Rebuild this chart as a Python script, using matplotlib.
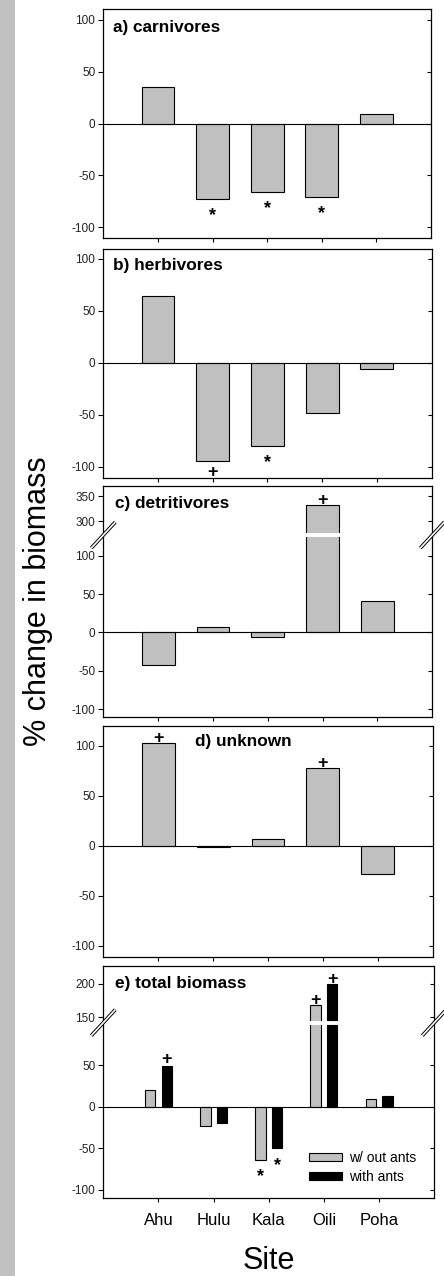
import numpy as np
import matplotlib
matplotlib.use('Agg')
import matplotlib.pyplot as plt
import matplotlib.transforms as mtransforms
from matplotlib.patches import Rectangle, Patch
from matplotlib.lines import Line2D

plt.rcParams['font.family'] = ['Liberation Sans', 'DejaVu Sans']

# ---------------- data ----------------
sites = ['Ahu', 'Hulu', 'Kala', 'Oili', 'Poha']
carnivores = [35, -73, -66, -71, 9]
herbivores = [64, -94.5, -79.5, -48, -6]
detritivores = [-43, 6.5, -5.5, 333, 41]
unknown = [103, -1, 7, 78, -28]
total_without_ants = [20, -23.5, -64, 169, 9]
total_with_ants = [49, -20, -50, 200, 13]

carnivore_marks = ['', '*', '*', '*', '']
herbivore_marks = ['', '+', '*', '', '']
detritivore_marks = ['', '', '', '+', '']
unknown_marks = ['+', '', '', '+', '']
without_ants_marks = ['', '', '*', '+', '']
with_ants_marks = ['+', '', '*', '+', '']

panel_titles = ['a) carnivores', 'b) herbivores', 'c) detritivores',
                'd) unknown', 'e) total biomass']
legend_labels = ['w/ out ants', 'with ants']
yticks_std = [-100, -50, 0, 50, 100]
yticks_c = [-100, -50, 0, 50, 100, 300, 350]
yticks_e = [-100, -50, 0, 50, 150, 200]

# ---------------- figure ----------------
W, H = 444, 1276
DPI = 100
fig = plt.figure(figsize=(W / DPI, H / DPI), dpi=DPI)
fig.add_artist(Rectangle((0, 0), 15 / W, 1, transform=fig.transFigure,
                         facecolor='#c0c0c0', edgecolor='none', zorder=0))

GRAY = '#c0c0c0'
EDGE_LW = 0.8
TICK_COLOR = '#222222'


def px_axes(left, top, right, bottom):
    return fig.add_axes([left / W, 1 - bottom / H, (right - left) / W, (bottom - top) / H])


def break_scale(lo, hi, k, eps=1e-3):
    mid = lo + (hi - lo) * eps

    def fwd(v):
        v = np.asarray(v, dtype=float)
        return np.where(v <= lo, v,
                        np.where(v < hi, lo + (v - lo) * eps, mid + (v - hi) * k))

    def inv(y):
        y = np.asarray(y, dtype=float)
        return np.where(y <= lo, y,
                        np.where(y < mid, lo + (y - lo) / eps, hi + (y - mid) / k))
    return fwd, inv


def style(ax, ylim, yticks, show_xlabels=False):
    ax.set_xlim(-1, 5)
    ax.set_ylim(*ylim)
    ax.set_xticks(range(len(sites)))
    ax.set_yticks(yticks)
    ax.set_yticklabels([str(t) for t in yticks])
    ax.tick_params(axis='y', direction='out', length=3.6, width=0.8, pad=2.2,
                   labelsize=8.5, colors='black', labelcolor=TICK_COLOR)
    ax.tick_params(axis='x', direction='out', length=3, width=0.8, pad=7.5,
                   labelsize=12, labelbottom=show_xlabels)
    if show_xlabels:
        ax.set_xticklabels(sites)
    for s in ax.spines.values():
        s.set_linewidth(0.9)
    # inward ticks on right side
    trans = mtransforms.blended_transform_factory(ax.transAxes, ax.transData)
    ax.plot([1] * len(yticks), yticks, ls='none', marker=0, markersize=3.2,
            markeredgewidth=0.8, color='black', transform=trans, clip_on=False, zorder=3)
    ax.axhline(0, color='black', lw=0.8, zorder=1.6)


def title(ax, text, dx, dy):
    bb = ax.get_position()
    axw, axh = bb.width * W, bb.height * H
    ax.text(dx / axw, 1 - dy / axh, text, transform=ax.transAxes, fontsize=12.4,
            fontweight='bold', ha='left', va='baseline')


def mark(ax, x, v, sym, fs=13, up=6.0):
    if not sym:
        return
    em_px = fs * DPI / 72
    if v >= 0:
        center = up
    else:
        center = -11 if sym == '*' else -9.5
    gc = 0.58 if sym == '*' else 0.35
    base_px = center - gc * em_px
    ax.annotate(sym, xy=(x, v), xytext=(0, base_px * 72 / DPI), textcoords='offset points',
                ha='center', va='baseline', fontsize=fs, fontweight='bold',
                annotation_clip=False)


def break_marks(ax, brk):
    bb = ax.get_position()
    axw, axh = bb.width * W, bb.height * H
    yf = ax.transAxes.inverted().transform(ax.transData.transform((0, brk)))[1]
    dx, dy = 12 / axw, 13 / axh
    for x0 in (0, 1):
        ax.add_line(Line2D([x0 - dx, x0 + dx], [yf - dy, yf + dy], transform=ax.transAxes,
                           color='black', lw=2.6, clip_on=False, solid_capstyle='butt', zorder=6))
        ax.add_line(Line2D([x0 - dx, x0 + dx], [yf - dy, yf + dy], transform=ax.transAxes,
                           color='white', lw=1.2, clip_on=False, solid_capstyle='butt', zorder=7))
    ax.axhline(brk, color='white', lw=2.8, zorder=2)


x = np.arange(len(sites))

# ---------------- a) carnivores ----------------
ax_a = px_axes(103.3, 9, 431, 238)
ax_a.bar(x, carnivores, width=0.6, color=GRAY, edgecolor='black', linewidth=EDGE_LW)
style(ax_a, (-110.6, 110.6), yticks_std)
title(ax_a, panel_titles[0], 9.4, 23)
for xi, v, m in zip(x, carnivores, carnivore_marks):
    mark(ax_a, xi, v, m)

# ---------------- b) herbivores ----------------
ax_b = px_axes(103.3, 249, 431.5, 477.7)
ax_b.bar(x, herbivores, width=0.6, color=GRAY, edgecolor='black', linewidth=EDGE_LW)
style(ax_b, (-110.3, 109.6), yticks_std)
title(ax_b, panel_titles[1], 9.4, 21)
for xi, v, m in zip(x, herbivores, herbivore_marks):
    mark(ax_b, xi, v, m)

# ---------------- c) detritivores (broken axis) ----------------
ax_c = px_axes(103.3, 486, 432.3, 717)
lo_c, hi_c = 127, 273
ax_c.set_yscale('function', functions=break_scale(lo_c, hi_c, 0.652))
ax_c.bar(x, detritivores, width=0.6, color=GRAY, edgecolor='black', linewidth=EDGE_LW)
style(ax_c, (-110.4, 371), yticks_c)
title(ax_c, panel_titles[2], 11.7, 22.3)
for xi, v, m in zip(x, detritivores, detritivore_marks):
    mark(ax_c, xi, v, m)
break_marks(ax_c, lo_c)

# ---------------- d) unknown ----------------
ax_d = px_axes(103.3, 726, 432.7, 956.7)
ax_d.bar(x, unknown, width=0.6, color=GRAY, edgecolor='black', linewidth=EDGE_LW)
style(ax_d, (-110.7, 120), yticks_std)
title(ax_d, panel_titles[3], 91.7, 20)
for xi, v, m in zip(x, unknown, unknown_marks):
    mark(ax_d, xi, v, m)

# ---------------- e) total biomass (broken axis) ----------------
ax_e = px_axes(103.3, 966, 434.3, 1198.3)
lo_e, hi_e = 101, 142
ax_e.set_yscale('function', functions=break_scale(lo_e, hi_e, 0.8))
off, bw = 0.15, 0.19
ax_e.bar(x - off, total_without_ants, width=bw, color=GRAY, edgecolor='black', linewidth=EDGE_LW)
ax_e.bar(x + off, total_with_ants, width=bw, color='black', edgecolor='black', linewidth=EDGE_LW)
style(ax_e, (-110, 227), yticks_e, show_xlabels=True)
title(ax_e, panel_titles[4], 11.7, 21.7)
for xi, v, m in zip(x, total_without_ants, without_ants_marks):
    mark(ax_e, xi - off, v, m)
for xi, v, m in zip(x, total_with_ants, with_ants_marks):
    mark(ax_e, xi + off, v, m, up=(8 if xi == 0 else 6))
break_marks(ax_e, lo_e)

handles = [Patch(facecolor=GRAY, edgecolor='black', linewidth=EDGE_LW),
           Patch(facecolor='black', edgecolor='black', linewidth=EDGE_LW)]
ax_e.legend(handles, legend_labels, frameon=False, fontsize=10, handlelength=2.35,
            handleheight=0.48, handletextpad=0.5, labelspacing=0.35, borderpad=0,
            borderaxespad=0, loc='center left',
            bbox_to_anchor=(309 / W, 1 - 1167.4 / H), bbox_transform=fig.transFigure)

# ---------------- axis titles ----------------
fig.text(269 / W, 1 - 1269 / H, 'Site', ha='center', va='baseline', fontsize=22)
fig.text(38 / W, 1 - 601 / H, '% change in biomass', rotation=90, ha='center',
         va='center', fontsize=22)

fig.savefig('out.png', dpi=DPI)
